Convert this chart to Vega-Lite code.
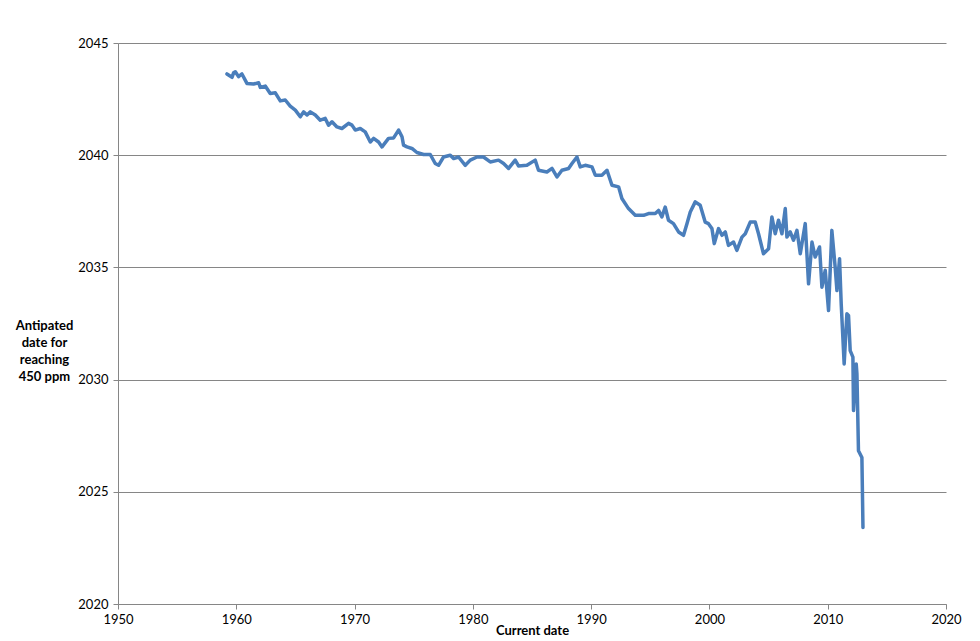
{
  "$schema": "https://vega.github.io/schema/vega-lite/v6.json",
  "autosize": "none",
  "width": 828,
  "height": 561,
  "padding": {"left": 118, "top": 43, "right": 34, "bottom": 37},
  "background": "white",
  "config": {"view": {"stroke": null}, "font": "Lato"},
  "data": {
    "values": [
      {"current": 1959.21, "target": 2043.62}, {"current": 1959.64, "target": 2043.47},
      {"current": 1959.77, "target": 2043.67}, {"current": 1959.92, "target": 2043.72},
      {"current": 1960.19, "target": 2043.50}, {"current": 1960.48, "target": 2043.62},
      {"current": 1960.90, "target": 2043.20}, {"current": 1961.46, "target": 2043.17},
      {"current": 1961.89, "target": 2043.23}, {"current": 1962.03, "target": 2043.02},
      {"current": 1962.45, "target": 2043.08}, {"current": 1962.87, "target": 2042.75},
      {"current": 1963.30, "target": 2042.78}, {"current": 1963.72, "target": 2042.42},
      {"current": 1964.14, "target": 2042.46}, {"current": 1964.56, "target": 2042.19},
      {"current": 1964.99, "target": 2042.01}, {"current": 1965.41, "target": 2041.71},
      {"current": 1965.69, "target": 2041.93}, {"current": 1965.98, "target": 2041.79},
      {"current": 1966.26, "target": 2041.93}, {"current": 1966.68, "target": 2041.79},
      {"current": 1967.10, "target": 2041.56}, {"current": 1967.52, "target": 2041.64},
      {"current": 1967.80, "target": 2041.34}, {"current": 1968.09, "target": 2041.49},
      {"current": 1968.51, "target": 2041.26}, {"current": 1968.93, "target": 2041.19},
      {"current": 1969.49, "target": 2041.42}, {"current": 1969.78, "target": 2041.34},
      {"current": 1970.06, "target": 2041.12}, {"current": 1970.48, "target": 2041.19},
      {"current": 1970.90, "target": 2041.04}, {"current": 1971.33, "target": 2040.59},
      {"current": 1971.61, "target": 2040.75}, {"current": 1972.03, "target": 2040.59},
      {"current": 1972.32, "target": 2040.37}, {"current": 1972.87, "target": 2040.75},
      {"current": 1973.30, "target": 2040.77}, {"current": 1973.72, "target": 2041.12},
      {"current": 1974.01, "target": 2040.82}, {"current": 1974.14, "target": 2040.45},
      {"current": 1974.43, "target": 2040.37}, {"current": 1974.85, "target": 2040.30},
      {"current": 1975.27, "target": 2040.12}, {"current": 1975.83, "target": 2040.03},
      {"current": 1976.40, "target": 2040.03}, {"current": 1976.82, "target": 2039.63},
      {"current": 1977.10, "target": 2039.55}, {"current": 1977.52, "target": 2039.92},
      {"current": 1978.09, "target": 2040.00}, {"current": 1978.37, "target": 2039.85},
      {"current": 1978.79, "target": 2039.92}, {"current": 1979.36, "target": 2039.55},
      {"current": 1979.78, "target": 2039.78}, {"current": 1980.35, "target": 2039.92},
      {"current": 1980.90, "target": 2039.92}, {"current": 1981.47, "target": 2039.70},
      {"current": 1982.17, "target": 2039.78}, {"current": 1982.60, "target": 2039.63},
      {"current": 1983.02, "target": 2039.41}, {"current": 1983.58, "target": 2039.78},
      {"current": 1983.86, "target": 2039.52}, {"current": 1984.57, "target": 2039.55},
      {"current": 1985.27, "target": 2039.78}, {"current": 1985.55, "target": 2039.33},
      {"current": 1986.26, "target": 2039.25}, {"current": 1986.69, "target": 2039.41},
      {"current": 1987.11, "target": 2039.03}, {"current": 1987.53, "target": 2039.33},
      {"current": 1988.09, "target": 2039.41}, {"current": 1988.38, "target": 2039.63},
      {"current": 1988.80, "target": 2039.92}, {"current": 1989.08, "target": 2039.48},
      {"current": 1989.50, "target": 2039.55}, {"current": 1990.07, "target": 2039.48},
      {"current": 1990.35, "target": 2039.11}, {"current": 1990.91, "target": 2039.11},
      {"current": 1991.34, "target": 2039.33}, {"current": 1991.76, "target": 2038.66},
      {"current": 1992.32, "target": 2038.59}, {"current": 1992.60, "target": 2038.07},
      {"current": 1993.16, "target": 2037.62}, {"current": 1993.73, "target": 2037.32},
      {"current": 1994.43, "target": 2037.32}, {"current": 1994.85, "target": 2037.40},
      {"current": 1995.42, "target": 2037.40}, {"current": 1995.70, "target": 2037.54},
      {"current": 1995.98, "target": 2037.25}, {"current": 1996.26, "target": 2037.69},
      {"current": 1996.54, "target": 2037.10}, {"current": 1996.96, "target": 2036.95},
      {"current": 1997.39, "target": 2036.58}, {"current": 1997.81, "target": 2036.43},
      {"current": 1998.10, "target": 2036.95}, {"current": 1998.38, "target": 2037.47},
      {"current": 1998.80, "target": 2037.92}, {"current": 1999.22, "target": 2037.77},
      {"current": 1999.64, "target": 2037.02}, {"current": 1999.92, "target": 2036.95},
      {"current": 2000.21, "target": 2036.73}, {"current": 2000.41, "target": 2036.06},
      {"current": 2000.77, "target": 2036.73}, {"current": 2001.06, "target": 2036.43},
      {"current": 2001.34, "target": 2036.58}, {"current": 2001.61, "target": 2035.98},
      {"current": 2002.04, "target": 2036.13}, {"current": 2002.32, "target": 2035.76},
      {"current": 2002.75, "target": 2036.35}, {"current": 2003.03, "target": 2036.50},
      {"current": 2003.45, "target": 2037.02}, {"current": 2003.87, "target": 2037.02},
      {"current": 2004.15, "target": 2036.50}, {"current": 2004.57, "target": 2035.61},
      {"current": 2005.00, "target": 2035.83}, {"current": 2005.28, "target": 2037.25},
      {"current": 2005.56, "target": 2036.50}, {"current": 2005.84, "target": 2037.10},
      {"current": 2006.13, "target": 2036.50}, {"current": 2006.41, "target": 2037.62},
      {"current": 2006.55, "target": 2036.35}, {"current": 2006.83, "target": 2036.58},
      {"current": 2007.11, "target": 2036.21}, {"current": 2007.40, "target": 2036.65},
      {"current": 2007.68, "target": 2035.61}, {"current": 2008.10, "target": 2036.95},
      {"current": 2008.38, "target": 2034.27}, {"current": 2008.67, "target": 2036.13},
      {"current": 2008.94, "target": 2035.46}, {"current": 2009.31, "target": 2035.91},
      {"current": 2009.51, "target": 2034.12}, {"current": 2009.79, "target": 2034.87},
      {"current": 2010.07, "target": 2033.08}, {"current": 2010.35, "target": 2036.65},
      {"current": 2010.63, "target": 2035.01}, {"current": 2010.78, "target": 2033.97},
      {"current": 2011.00, "target": 2035.39}, {"current": 2011.14, "target": 2033.38},
      {"current": 2011.39, "target": 2030.70}, {"current": 2011.62, "target": 2032.93},
      {"current": 2011.76, "target": 2032.86}, {"current": 2011.90, "target": 2031.29},
      {"current": 2012.13, "target": 2031.00}, {"current": 2012.18, "target": 2028.62},
      {"current": 2012.41, "target": 2030.70}, {"current": 2012.47, "target": 2030.25},
      {"current": 2012.60, "target": 2026.83}, {"current": 2012.89, "target": 2026.53},
      {"current": 2012.98, "target": 2023.41}
    ]
  },
  "mark": {"type": "line", "color": "#4a7ebb", "strokeWidth": 3.5, "strokeJoin": "round", "strokeCap": "round"},
  "encoding": {
    "x": {
      "field": "current",
      "type": "quantitative",
      "scale": {"domain": [1950, 2020], "nice": false, "zero": false},
      "axis": {
        "title": "Current date",
        "values": [1950, 1960, 1970, 1980, 1990, 2000, 2010, 2020],
        "format": "d",
        "grid": false,
        "domainColor": "#868686",
        "tickColor": "#868686",
        "tickSize": 5,
        "labelPadding": 4,
        "labelFontSize": 13,
        "labelColor": "#000000",
        "labelFlush": false,
        "titleFontSize": 13,
        "titleFontWeight": "bold",
        "titleColor": "#000000",
        "titleBaseline": "middle",
        "titleY": 26
      }
    },
    "y": {
      "field": "target",
      "type": "quantitative",
      "scale": {"domain": [2020, 2045], "nice": false, "zero": false},
      "axis": {
        "title": ["Antipated", "date for", "reaching", "450 ppm"],
        "values": [2020, 2025, 2030, 2035, 2040, 2045],
        "format": "d",
        "grid": true,
        "gridColor": "#868686",
        "gridWidth": 1,
        "domainColor": "#868686",
        "tickColor": "#868686",
        "tickSize": 5,
        "labelPadding": 5,
        "labelFontSize": 13,
        "labelColor": "#000000",
        "labelFlush": false,
        "titleFontSize": 13,
        "titleFontWeight": "bold",
        "titleColor": "#000000",
        "titleAngle": 0,
        "titleAlign": "center",
        "titleBaseline": "middle",
        "titleLineHeight": 17,
        "titleX": -74,
        "titleY": 282
      }
    }
  }
}
